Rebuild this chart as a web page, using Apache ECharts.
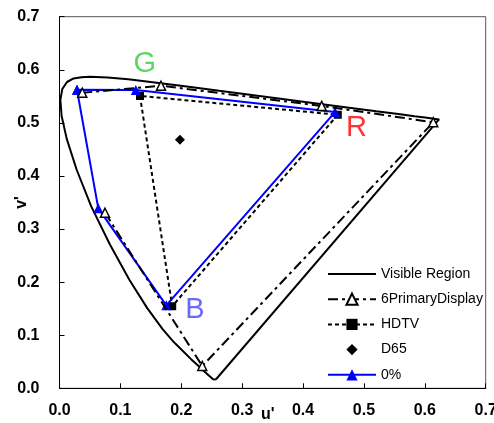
<!DOCTYPE html>
<html>
<head>
<meta charset="utf-8">
<script src="https://cdn.jsdelivr.net/npm/echarts@6/dist/echarts.min.js"></script>
<style>
  html, body { margin: 0; padding: 0; background: #fff; }
  #chart { width: 494px; height: 423px; }
</style>
</head>
<body>
<div id="chart"></div>
<script>
// CIE 1976 u'v' spectral locus (380 nm -> 700 nm), closed by the purple line
const visibleU = [0.2568, 0.2522, 0.2347, 0.2266, 0.2161, 0.1877, 0.1690, 0.1441, 0.1147, 0.0828,
  0.0521, 0.0282, 0.0119, 0.0035, 0.0014, 0.0046, 0.0123, 0.0231, 0.0360, 0.0501, 0.0792, 0.1127,
  0.1531, 0.2026, 0.2623, 0.3315, 0.4035, 0.4692, 0.5203, 0.5565, 0.5830, 0.6005, 0.6234, 0.2568];
const visibleV = [0.0166, 0.0169, 0.0350, 0.0437, 0.0549, 0.0871, 0.1119, 0.1510, 0.2044, 0.2708,
  0.3427, 0.4117, 0.4698, 0.5131, 0.5432, 0.5638, 0.5770, 0.5837, 0.5861, 0.5868, 0.5856, 0.5821,
  0.5766, 0.5694, 0.5604, 0.5501, 0.5393, 0.5296, 0.5219, 0.5165, 0.5125, 0.5099, 0.5065, 0.0166];

// Six-primary display primaries (open polyline)
const sixPrimaryU = [0.0374, 0.1667, 0.4306, 0.6139, 0.2345, 0.0747];
const sixPrimaryV = [0.5567, 0.5700, 0.5320, 0.5011, 0.0420, 0.3307];

// HDTV gamut (G, B, R, G)
const hdtvU = [0.1322, 0.1851, 0.4571, 0.1322];
const hdtvV = [0.5508, 0.1546, 0.5153, 0.5508];

// D65 white point
const d65U = [0.1978];
const d65V = [0.4683];

// 0% gamut
const zeroU = [0.0287, 0.1253, 0.4525, 0.1754, 0.0637, 0.0287];
const zeroV = [0.5623, 0.5618, 0.5203, 0.1563, 0.3390, 0.5623];

// Primary name annotations
const primaryNames = ['G', 'R', 'B'];
const primaryU = [0.140, 0.4878, 0.2225];
const primaryV = [0.610, 0.490, 0.1475];
const primaryColors = ['#33cc33', '#ff0000', '#4444ff'];

const seriesNames = ['Visible Region', '6PrimaryDisplay', 'HDTV', 'D65', '0%'];
const axisTicks = [0, 0.1, 0.2, 0.3, 0.4, 0.5, 0.6, 0.7];

const zip = (u, v) => u.map((x, i) => [x, v[i]]);
const FONT = 'Liberation Sans, Arial, Helvetica, sans-serif';

const chart = echarts.init(document.getElementById('chart'), null, { renderer: 'canvas' });

const axisCommon = {
  type: 'value',
  min: axisTicks[0],
  max: axisTicks[axisTicks.length - 1],
  interval: 0.1,
  splitLine: { show: false },
  axisLine: { show: true, onZero: false, lineStyle: { color: '#000', width: 1 } },
  axisTick: { show: true, inside: true, length: 5, lineStyle: { color: '#000' } },
  axisLabel: {
    color: '#000', fontSize: 16, fontWeight: 'bold', fontFamily: FONT,
    formatter: v => v.toFixed(1)
  },
  nameTextStyle: { color: '#000', fontSize: 16, fontWeight: 'bold', fontFamily: FONT }
};

chart.setOption({
  animation: false,
  backgroundColor: '#fff',
  grid: {
    left: 59.5, top: 16.7, width: 426.2, height: 371.6,
    show: true, borderColor: '#555', borderWidth: 1,
    containLabel: false, outerBoundsMode: 'none'
  },
  xAxis: Object.assign({}, axisCommon, {
    axisLabel: Object.assign({}, axisCommon.axisLabel, { margin: 14 })
  }),
  yAxis: Object.assign({}, axisCommon, {
    name: "v'",
    nameLocation: 'middle',
    nameGap: 30,
    nameRotate: 90,
    nameMoveOverlap: false,
    axisLabel: Object.assign({}, axisCommon.axisLabel, { margin: 20 })
  }),
  graphic: [{
    type: 'text',
    left: 261, top: 407,
    style: { text: "u'", fill: '#000', font: 'bold 16px ' + FONT }
  }],
  legend: {
    data: [
      { name: seriesNames[0], itemStyle: { opacity: 0 } },
      seriesNames[1],
      seriesNames[2],
      { name: seriesNames[3], lineStyle: { opacity: 0 } },
      seriesNames[4]
    ],
    orient: 'vertical',
    left: 322, top: 262,
    itemWidth: 48, itemHeight: 14, itemGap: 11.2,
    textStyle: { color: '#000', fontSize: 14, fontFamily: FONT },
    selectedMode: false
  },
  series: [
    {
      name: seriesNames[0], type: 'line', data: zip(visibleU, visibleV),
      symbol: 'none', smooth: false, z: 2,
      lineStyle: { color: '#000', width: 2, type: 'solid' },
      itemStyle: { color: '#000' }
    },
    {
      name: seriesNames[1], type: 'line', data: zip(sixPrimaryU, sixPrimaryV),
      symbol: 'triangle', symbolSize: 9, z: 5,
      lineStyle: { color: '#000', width: 2, type: [10, 4, 3, 4] },
      itemStyle: { color: '#fff', borderColor: '#000', borderWidth: 1.5 }
    },
    {
      name: seriesNames[2], type: 'line', data: zip(hdtvU, hdtvV),
      symbol: 'rect', symbolSize: 8, z: 3,
      lineStyle: { color: '#000', width: 2, type: [4, 3] },
      itemStyle: { color: '#000' }
    },
    {
      // single white point, drawn as a marker only
      name: seriesNames[3], type: 'line', data: zip(d65U, d65V),
      symbol: 'diamond', symbolSize: 10, showSymbol: true, z: 3,
      lineStyle: { color: '#000', width: 0, opacity: 0 },
      itemStyle: { color: '#000' }
    },
    {
      name: seriesNames[4], type: 'line', data: zip(zeroU, zeroV),
      symbol: 'triangle', symbolSize: 10, z: 4,
      lineStyle: { color: '#0000ff', width: 2, type: 'solid' },
      itemStyle: { color: '#0000ff' }
    },
    {
      name: 'primaries', type: 'scatter', symbolSize: 0, z: 6, silent: true,
      data: primaryNames.map((n, i) => ({
        value: [primaryU[i], primaryV[i]],
        label: {
          show: true, position: 'inside', formatter: n,
          color: primaryColors[i], fontSize: 29, fontFamily: FONT
        }
      }))
    }
  ]
});
</script>
</body>
</html>
